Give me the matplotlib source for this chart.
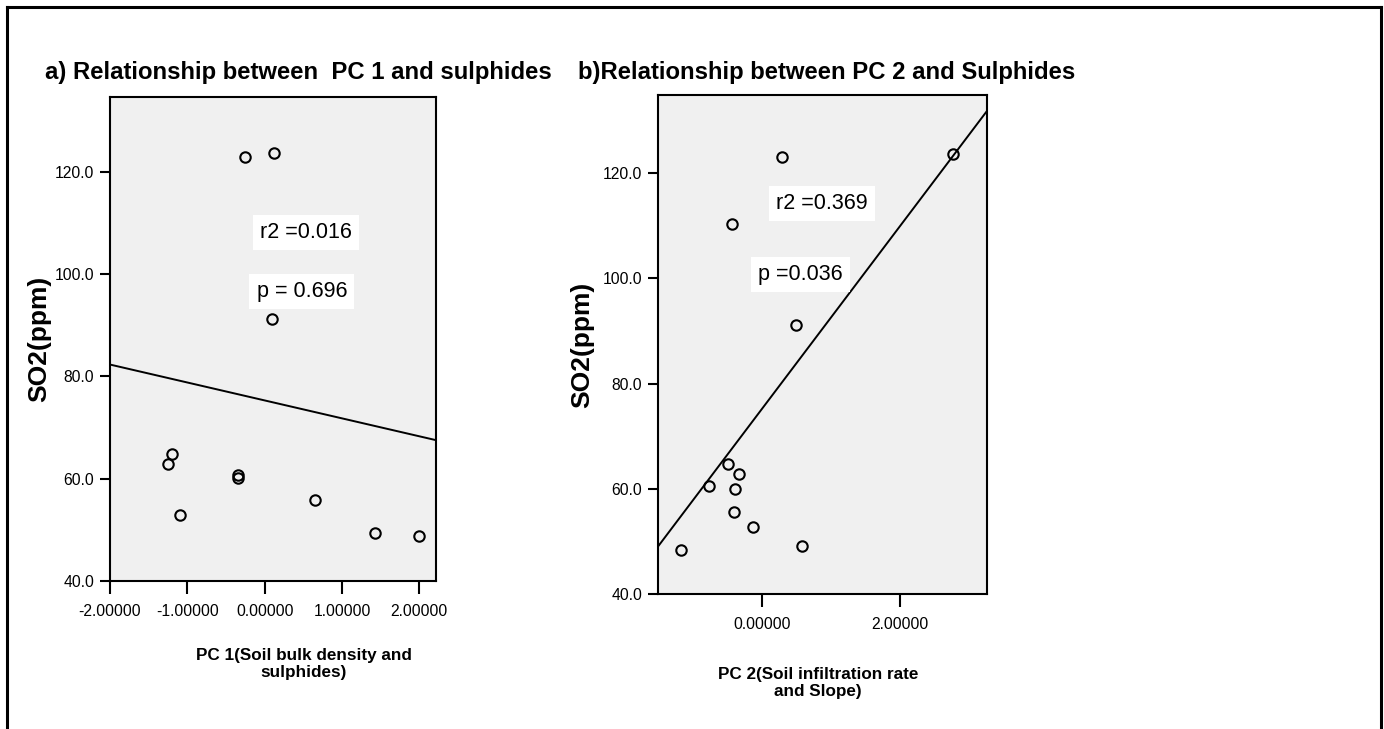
import numpy as np
import matplotlib
matplotlib.use("Agg")
import matplotlib.pyplot as plt
from matplotlib.lines import Line2D

# PC scores and SO2 readings
pc1 = [-0.26, 0.12, 0.18, 0.09, -1.20, -1.25, -1.10, -0.34, -0.34, 0.65, 1.43, 2.00]
so2_a = [123.0, 123.7, 110.4, 91.3, 64.8, 62.9, 52.9, 60.7, 60.1, 55.9, 49.3, 48.8]

pc2 = [0.28, 2.77, -0.44, 0.49, -0.50, -0.34, -0.77, -0.39, -0.41, -0.14, 0.58, -1.18]
so2_b = [123.0, 123.6, 110.4, 91.2, 64.7, 62.9, 60.5, 60.0, 55.7, 52.8, 49.2, 48.5]

yticks = [40, 60, 80, 100, 120]
xticks_a = [-2, -1, 0, 1, 2]
xticks_b = [0, 2]

stats_a = ["r2 =0.016", "p = 0.696"]
stats_b = ["r2 =0.369", "p =0.036"]

W, H = 1384, 729
plt.rcParams["font.family"] = ["Liberation Sans", "DejaVu Sans"]

fig = plt.figure(figsize=(W / 100, H / 100), dpi=100)


def fx(px):
    return px / W


def fy(py):
    return 1 - py / H


def panel(rect, x, y, xlim, xticks, stats, stat_pos):
    ax = fig.add_axes(rect)
    ax.set_facecolor("#f0f0f0")
    ax.plot(x, y, "o", ms=7.5, mfc="none", mec="black", mew=1.5, zorder=3)
    slope, icept = np.polyfit(x, y, 1)
    xs = np.array(xlim)
    ax.plot(xs, icept + slope * xs, color="black", lw=1.4, zorder=2)
    ax.set_xlim(*xlim)
    ax.set_ylim(40, 134.8)
    ax.set_yticks(yticks)
    ax.set_yticklabels([f"{v:.1f}" for v in yticks])
    ax.set_xticks(xticks)
    ax.set_xticklabels([f"{v:.5f}" for v in xticks])
    for s in ax.spines.values():
        s.set_linewidth(1.5)
    ax.tick_params(axis="y", length=7.5, width=1.5, labelsize=11.3, pad=4)
    ax.tick_params(axis="x", length=9.5, width=1.5, labelsize=11.3, pad=7)
    for txt, (tx, ty) in zip(stats, stat_pos):
        ax.text(tx, ty, txt, ha="center", va="center", fontsize=15.5, zorder=5,
                bbox=dict(boxstyle="square,pad=0.33", fc="white", ec="none"))
    return ax


ax1 = panel([fx(110), fy(580.7), fx(435.7 - 110), (580.7 - 96.7) / H],
            pc1, so2_a, (-2.0, 2.212), xticks_a, stats_a,
            [(0.53, 108.2), (0.48, 96.7)])
ax2 = panel([fx(658.3), fy(594.3), fx(986.7 - 658.3), (594.3 - 95) / H],
            pc2, so2_b, (-1.51, 3.26), xticks_b, stats_b,
            [(0.87, 114.2), (0.55, 100.7)])

# titles and axis labels
fig.text(fx(45), fy(72), "a) Relationship between  PC 1 and sulphides",
         fontsize=17.2, fontweight="bold", ha="left", va="center")
fig.text(fx(578), fy(72), "b)Relationship between PC 2 and Sulphides",
         fontsize=17.2, fontweight="bold", ha="left", va="center")

fig.text(fx(39), fy(339), "SO2(ppm)", rotation=90, fontsize=19,
         fontweight="bold", ha="center", va="center")
fig.text(fx(582), fy(345), "SO2(ppm)", rotation=90, fontsize=19,
         fontweight="bold", ha="center", va="center")

fig.text(fx(304), fy(664), "PC 1(Soil bulk density and\nsulphides)",
         fontsize=12.3, fontweight="bold", ha="center", va="center",
         linespacing=1.1)
fig.text(fx(818), fy(683), "PC 2(Soil infiltration rate\nand Slope)",
         fontsize=12.3, fontweight="bold", ha="center", va="center",
         linespacing=1.1)

# outer frame (open at the bottom)
for xs, ys in [([7, 7], [H + 5, 7]), ([7, 1381], [7, 7]), ([1381, 1381], [7, H + 5])]:
    fig.add_artist(Line2D([fx(v) for v in xs], [fy(v) for v in ys],
                          color="black", lw=2.2))

fig.savefig("out.png", dpi=100)
